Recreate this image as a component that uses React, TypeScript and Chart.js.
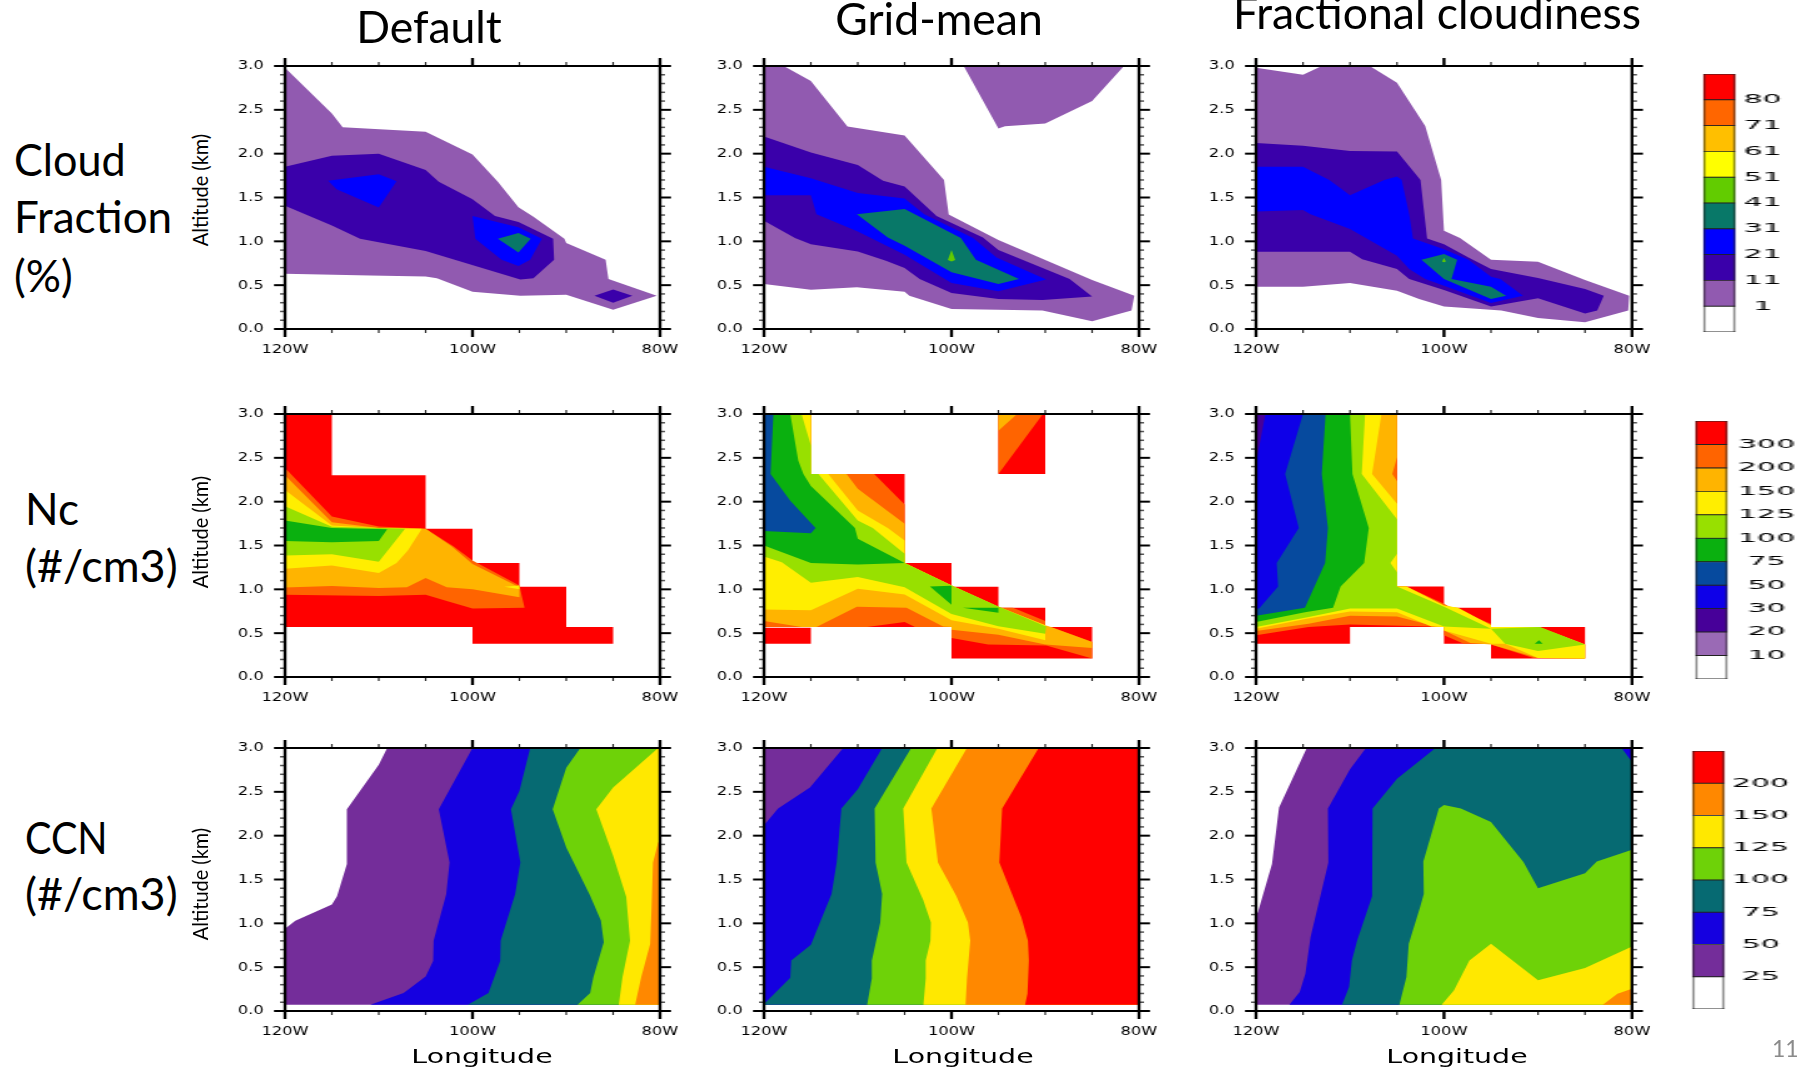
import React, { useEffect, useRef } from "react";
import { Chart, registerables } from "chart.js";

Chart.register(...registerables);

type Pair = [number, number];
type Layer = [number, Pair[]];

// ---------- axis content ----------
const xTicks: Record<string, string> = { "-120": "120W", "-100": "100W", "-80": "80W" };
const columnTitles = ["Default", "Grid-mean", "Fractional cloudiness"];

// ---------- colour levels ----------
const cloudLabels = ["1", "11", "21", "31", "41", "51", "61", "71", "80"];
const cloudColors = ["#FFFFFF", "#915AB0", "#3A00AA", "#0000FF", "#087868", "#62CC00", "#FFFF00", "#FFBF00", "#FF6600", "#FF0000"];
const ncLabels = ["10", "20", "30", "50", "75", "100", "125", "150", "200", "300"];
const ncColors = ["#FFFFFF", "#9A6AB5", "#470099", "#0E00E8", "#064A9E", "#0AB00F", "#98E000", "#FFEE00", "#FFB400", "#FF6400", "#FF0000"];
const ccnLabels = ["25", "50", "75", "100", "125", "150", "200"];
const ccnColors = ["#FFFFFF", "#742D9A", "#1500E0", "#066A72", "#6ED208", "#FFE800", "#FF8800", "#FF0000"];

// ---------- Cloud fraction, Default ----------
const cfA1: Pair[] = [[-120,2.98],[-115,2.457],[-113.85,2.3],[-105,2.25],[-100,1.99],[-97.3,1.68],[-95.1,1.39],[-93.5,1.28],[-90.2,1.03],[-90,0.98],[-85.8,0.79],[-85.5,0.57],[-80.35,0.38],[-85,0.22],[-90,0.39],[-94.9,0.38],[-100,0.425],[-103.8,0.58],[-105,0.6],[-110.9,0.61],[-120,0.63]];
const cfA2a: Pair[] = [[-120,1.85],[-115,1.975],[-110,2],[-105,1.815],[-103.6,1.68],[-100,1.48],[-97.6,1.29],[-95.1,1.22],[-91.4,1.03],[-91.3,0.79],[-93.5,0.58],[-94.9,0.565],[-105,0.89],[-112,1.03],[-115,1.18],[-120,1.405]];
const cfA2b: Pair[] = [[-87,0.38],[-85,0.45],[-82.95,0.38],[-85,0.3]];
const cfA3a: Pair[] = [[-115.4,1.69],[-110,1.765],[-108.1,1.686],[-110,1.386],[-114.5,1.595]];
const cfA3b: Pair[] = [[-100,1.29],[-95.1,1.16],[-92.6,1.03],[-93.85,0.79],[-95.1,0.72],[-96.9,0.79],[-99.7,1.03]];
const cfA4: Pair[] = [[-97.3,1.03],[-95.1,1.094],[-93.8,1.03],[-95.1,0.873]];
const panelCfDefault: Layer[] = [[1,cfA1],[2,cfA2a],[2,cfA2b],[3,cfA3a],[3,cfA3b],[4,cfA4]];

// ---------- Cloud fraction, Grid-mean ----------
const cfB1a: Pair[] = [[-120,3],[-117.9,3],[-115,2.83],[-111.1,2.31],[-105,2.207],[-100.8,1.7],[-100.3,1.306],[-95,1.014],[-85,0.558],[-80.5,0.38],[-80.8,0.21],[-85,0.087],[-90.3,0.21],[-95,0.22],[-100,0.228],[-104.5,0.38],[-105,0.425],[-110.1,0.475],[-115,0.448],[-120,0.513]];
const cfB1b: Pair[] = [[-98.7,3],[-81.6,3],[-85,2.6],[-90,2.343],[-94.3,2.313],[-95,2.286]];
const cfB2: Pair[] = [[-120,2.195],[-115,2.013],[-110,1.872],[-107.3,1.69],[-105,1.625],[-101.6,1.29],[-96.65,1.044],[-95,0.9],[-87.4,0.57],[-85,0.372],[-90.3,0.33],[-95,0.342],[-100,0.41],[-103.4,0.57],[-105,0.695],[-107,0.778],[-110,0.885],[-115,0.968],[-116.7,1.037],[-120,1.234]];
const cfB3: Pair[] = [[-120,1.85],[-115,1.72],[-110,1.55],[-105,1.49],[-102.9,1.31],[-97.7,1.037],[-95.2,0.816],[-89.9,0.566],[-95,0.43],[-100,0.524],[-105,0.847],[-110,1.113],[-114.4,1.31],[-115,1.527],[-120,1.527]];
const cfB4: Pair[] = [[-110.1,1.31],[-105,1.37],[-99,1.037],[-97.4,0.79],[-92.8,0.57],[-95,0.513],[-100,0.646],[-105,0.95],[-106.8,1.044]];
const cfB5: Pair[] = [[-100,0.9],[-99.6,0.786],[-100,0.77],[-100.4,0.786]];
const panelCfGrid: Layer[] = [[1,cfB1a],[1,cfB1b],[2,cfB2],[3,cfB3],[4,cfB4],[5,cfB5]];

// ---------- Cloud fraction, Fractional cloudiness ----------
const cfC1: Pair[] = [[-120,2.98],[-115,2.9],[-113,3],[-107.9,3],[-105,2.81],[-102,2.317],[-100.3,1.7],[-100,1.12],[-98.3,1.037],[-95,0.79],[-90,0.767],[-85,0.558],[-80.3,0.38],[-80.4,0.21],[-85,0.076],[-90,0.125],[-93.9,0.21],[-100,0.258],[-102.65,0.342],[-105,0.437],[-110,0.524],[-115,0.482],[-120,0.482]];
const cfC2: Pair[] = [[-120,2.123],[-115,2.09],[-110,2.03],[-105,2.024],[-102.5,1.7],[-101.8,1.033],[-100,0.968],[-97.4,0.817],[-95,0.684],[-90,0.581],[-85,0.456],[-83,0.38],[-83.7,0.21],[-85,0.178],[-90,0.35],[-95,0.258],[-100,0.444],[-103.7,0.57],[-105,0.684],[-108.7,0.797],[-110,0.88],[-120,0.88]];
const cfC3: Pair[] = [[-120,1.85],[-115,1.85],[-112.2,1.7],[-110,1.527],[-106.35,1.7],[-105,1.74],[-104.5,1.7],[-103.7,1.31],[-103.3,1.033],[-100,0.91],[-97.4,0.79],[-95,0.596],[-94,0.57],[-91.6,0.38],[-95,0.296],[-100,0.494],[-102,0.57],[-103.7,0.684],[-105,0.836],[-110,1.14],[-114.2,1.31],[-115,1.356],[-120,1.34]];
const cfC4: Pair[] = [[-102.4,0.79],[-100,0.855],[-98.6,0.79],[-99.2,0.57],[-95,0.482],[-93.4,0.38],[-95,0.342],[-100,0.57]];
const cfC5: Pair[] = [[-100.2,0.77],[-100,0.81],[-99.8,0.77],[-100,0.76]];
const panelCfFrac: Layer[] = [[1,cfC1],[2,cfC2],[3,cfC3],[4,cfC4],[5,cfC5]];

// ---------- Nc, Default ----------
const ncA300: Pair[] = [[-120,3],[-115,3],[-115,2.3],[-105,2.3],[-105,1.69],[-100,1.69],[-100,1.3],[-95,1.3],[-95,1.03],[-90,1.03],[-90,0.57],[-85,0.57],[-85,0.38],[-100,0.38],[-100,0.57],[-120,0.57]];
const ncA200: Pair[] = [[-120,2.385],[-115,1.83],[-110,1.717],[-105,1.69],[-102,1.49],[-100,1.33],[-95,1.044],[-94.45,0.79],[-100,0.78],[-102.75,0.866],[-105,0.938],[-110,0.923],[-120,0.938]];
const ncA150: Pair[] = [[-120,2.3],[-115,1.766],[-110,1.7],[-105,1.69],[-102.2,1.49],[-100,1.29],[-95,1.025],[-95,0.91],[-100,1],[-102.75,1.025],[-105,1.13],[-107,1.025],[-110,1.014],[-115,1.037],[-120,1.02]];
const ncA125a: Pair[] = [[-120,2.134],[-115,1.728],[-110,1.7],[-105.4,1.69],[-106.9,1.443],[-108.1,1.3],[-110,1.185],[-115,1.272],[-120,1.234]];
const ncA125b: Pair[] = [[-96.6,1.03],[-95,1.044],[-95,1]];
const ncA100: Pair[] = [[-120,1.948],[-115,1.713],[-110,1.7],[-107.2,1.69],[-110,1.314],[-115,1.4],[-120,1.386]];
const ncA75: Pair[] = [[-120,1.785],[-115,1.7],[-109.1,1.686],[-110,1.55],[-115,1.538],[-120,1.55]];
const panelNcDefault: Layer[] = [[10,ncA300],[9,ncA200],[8,ncA150],[7,ncA125a],[7,ncA125b],[6,ncA100],[5,ncA75]];

// ---------- Nc, Grid-mean ----------
const ncB300a: Pair[] = [[-120,0.562],[-115,0.562],[-115,0.38],[-120,0.38]];
const ncB300b: Pair[] = [[-120,3],[-115,3],[-115,2.315],[-105,2.315],[-105,1.3],[-100,1.3],[-100,1.03],[-95,1.03],[-95,0.79],[-90,0.79],[-90,0.57],[-85,0.57],[-85,0.21],[-100,0.21],[-100,0.57],[-120,0.57]];
const ncB300c: Pair[] = [[-95,3],[-90,3],[-90,2.315],[-95,2.315]];
const ncB200a: Pair[] = [[-95,3],[-90.25,3],[-95,2.315]];
const ncB200b: Pair[] = [[-120,3],[-115,3],[-115,2.315],[-108.25,2.315],[-105,1.967],[-105,1.3],[-100,1.044],[-95,0.79],[-93.45,0.79],[-90,0.638],[-90,0.57],[-89.4,0.57],[-85,0.4],[-85,0.21],[-89.9,0.36],[-96.1,0.372],[-100,0.444],[-100,0.57],[-103.9,0.57],[-105,0.627],[-109,0.57],[-120,0.57]];
const ncB150a: Pair[] = [[-95,3],[-93,3],[-95,2.81]];
const ncB150b: Pair[] = [[-120,3],[-115,3],[-115,2.315],[-111.2,2.315],[-110,2.146],[-105,1.747],[-105,1.3],[-100,1.044],[-95,0.8],[-90,0.59],[-89.4,0.57],[-85,0.4],[-85,0.33],[-90,0.372],[-95,0.482],[-100,0.54],[-100,0.57],[-100.9,0.577],[-104.8,0.79],[-110.1,0.8],[-114.4,0.57],[-116,0.57],[-120,0.638]];
const ncB125: Pair[] = [[-120,3],[-115,3],[-115,2.315],[-113.15,2.315],[-110,1.9],[-106.8,1.7],[-105,1.557],[-105,1.3],[-100,1.044],[-95,0.8],[-90,0.59],[-90,0.418],[-95,0.55],[-100,0.646],[-105,0.942],[-110,1.006],[-115,0.76],[-120,0.77]];
const ncB100: Pair[] = [[-120,3],[-116,3],[-115,2.64],[-115,2.315],[-114.2,2.315],[-110,1.785],[-108.4,1.7],[-105,1.405],[-105,1.3],[-100,1.044],[-95,0.805],[-89.9,0.577],[-90,0.494],[-95,0.58],[-100,0.72],[-105,1.025],[-110,1.14],[-115,1.075],[-118.1,1.31],[-120,1.375]];
const ncB75a: Pair[] = [[-120,3],[-117.2,3],[-116.35,2.47],[-115.8,2.315],[-115,2.18],[-110.3,1.7],[-110,1.576],[-105,1.3],[-110,1.284],[-115,1.3],[-120,1.5]];
const ncB75b: Pair[] = [[-102.3,1.033],[-100,1.04],[-100,0.824]];
const ncB75c: Pair[] = [[-98.8,0.79],[-95,0.79],[-95,0.733]];
const ncB50: Pair[] = [[-120,3],[-119,3],[-119.3,2.315],[-117.2,2.01],[-114.5,1.7],[-115,1.64],[-120,1.664]];
const panelNcGrid: Layer[] = [[10,ncB300a],[10,ncB300b],[10,ncB300c],[9,ncB200a],[9,ncB200b],[8,ncB150a],[8,ncB150b],[7,ncB125],[6,ncB100],[5,ncB75a],[5,ncB75b],[5,ncB75c],[4,ncB50]];

// ---------- Nc, Fractional cloudiness ----------
const ncC300: Pair[] = [[-120,3],[-105,3],[-105,1.033],[-100,1.033],[-100,0.79],[-95,0.79],[-95,0.57],[-85,0.57],[-85,0.21],[-95,0.21],[-95,0.38],[-100,0.38],[-100,0.57],[-110,0.57],[-110,0.38],[-120,0.38]];
const ncC200: Pair[] = [[-120,3],[-105,3],[-105,1.033],[-104,1.033],[-100,0.835],[-99.2,0.79],[-95,0.608],[-95,0.57],[-89.8,0.57],[-85,0.372],[-85,0.21],[-90.5,0.217],[-95,0.372],[-95,0.38],[-97.9,0.38],[-100,0.475],[-100,0.57],[-101.35,0.577],[-110,0.6],[-114.4,0.57],[-120,0.475]];
const ncC150: Pair[] = [[-120,3],[-105,3],[-105,2.507],[-105.5,2.317],[-105,2.233],[-105,1.033],[-104,1.033],[-100,0.817],[-98.7,0.79],[-95,0.59],[-95,0.57],[-90,0.57],[-85,0.372],[-85,0.21],[-90,0.217],[-95,0.372],[-97.2,0.387],[-100,0.53],[-100,0.57],[-100.9,0.577],[-105,0.69],[-110,0.7],[-114.4,0.607],[-120,0.524]];
const ncC125: Pair[] = [[-120,3],[-106.65,3],[-107.65,2.317],[-105,1.975],[-105,1.033],[-104,1.033],[-100,0.817],[-98.5,0.79],[-95,0.59],[-95,0.57],[-90,0.57],[-85,0.372],[-85,0.21],[-90,0.217],[-93.5,0.38],[-95,0.38],[-100,0.53],[-100,0.56],[-100,0.57],[-101.35,0.577],[-105,0.74],[-110,0.748],[-114.6,0.665],[-120,0.55]];
const ncC100: Pair[] = [[-120,3],[-108.4,3],[-108.75,2.317],[-105,1.8],[-105,1.405],[-105.7,1.3],[-105,1.196],[-105,1.033],[-100,0.8],[-95,0.55],[-89.8,0.57],[-85,0.372],[-90,0.296],[-93.5,0.38],[-95,0.55],[-100,0.577],[-105,0.78],[-110,0.78],[-114.4,0.684],[-120,0.57]];
const ncC75a: Pair[] = [[-120,3],[-110,3],[-109.74,2.317],[-108,1.7],[-108.5,1.3],[-111,1.033],[-111.8,0.79],[-114.8,0.74],[-120,0.627]];
const ncC75b: Pair[] = [[-90.35,0.38],[-89.9,0.42],[-89.5,0.38]];
const ncC50: Pair[] = [[-120,3],[-112.6,3],[-113,2.317],[-112.35,1.7],[-112.65,1.3],[-114.8,0.79],[-120,0.7]];
const ncC30: Pair[] = [[-120,3],[-115,3],[-116.9,2.317],[-115.45,1.7],[-117.8,1.3],[-117.65,1.033],[-119.6,0.79],[-120,0.767]];
const ncC20: Pair[] = [[-120,3],[-119,3],[-119.9,2.49],[-120,2.48]];
const panelNcFrac: Layer[] = [[10,ncC300],[9,ncC200],[8,ncC150],[7,ncC125],[6,ncC100],[5,ncC75a],[5,ncC75b],[4,ncC50],[3,ncC30],[2,ncC20]];

// ---------- CCN, Default ----------
const ccA25: Pair[] = [[-120,0.07],[-120,0.937],[-118.9,1.03],[-115,1.214],[-114.45,1.31],[-113.4,1.676],[-113.4,2.3],[-110,2.81],[-109.1,3],[-80,3],[-80,0.07]];
const ccA50: Pair[] = [[-100,3],[-103.6,2.3],[-102.45,1.695],[-102.8,1.335],[-104.15,0.8],[-104.2,0.57],[-105,0.394],[-107.35,0.205],[-110.9,0.07],[-80,0.07],[-80,3]];
const ccA75: Pair[] = [[-93.85,3],[-95,2.51],[-95.9,2.3],[-94.9,1.695],[-95.45,1.335],[-97,0.8],[-97.05,0.57],[-98.3,0.205],[-100.5,0.07],[-80,0.07],[-80,3]];
const ccA100: Pair[] = [[-88.5,3],[-90,2.776],[-91.45,2.3],[-90,1.866],[-87.45,1.316],[-86.3,1.03],[-86,0.785],[-87.1,0.387],[-87.45,0.205],[-88.8,0.07],[-80,0.07],[-80,3]];
const ccA125: Pair[] = [[-80.2,3],[-85,2.55],[-86.8,2.3],[-85,1.77],[-83.6,1.3],[-83.2,0.8],[-84,0.387],[-84.4,0.07],[-80,0.07],[-80,3]];
const ccA150: Pair[] = [[-80,1.95],[-80.2,1.92],[-80.75,1.695],[-80.9,1.18],[-81.05,0.765],[-82,0.387],[-82.65,0.07],[-80,0.07]];
const panelCcnDefault: Layer[] = [[1,ccA25],[2,ccA50],[3,ccA75],[4,ccA100],[5,ccA125],[6,ccA150]];

// ---------- CCN, Grid-mean ----------
const ccB25: Pair[] = [[-120,0.07],[-120,3],[-80,3],[-80,0.07]];
const ccB50: Pair[] = [[-111.55,3],[-115.1,2.55],[-118.5,2.31],[-120,2.12],[-120,0.07],[-80,0.07],[-80,3]];
const ccB75: Pair[] = [[-107.4,3],[-110,2.53],[-111.75,2.31],[-112.25,1.695],[-112.8,1.335],[-115,0.755],[-117.1,0.576],[-117.2,0.38],[-120,0.08],[-120,0.07],[-80,0.07],[-80,3]];
const ccB100: Pair[] = [[-104.3,3],[-108.2,2.31],[-108.1,1.695],[-107.4,1.335],[-107.6,1.01],[-108.5,0.576],[-108.5,0.37],[-109,0.07],[-80,0.07],[-80,3]];
const ccB125: Pair[] = [[-101.5,3],[-105.15,2.31],[-104.8,1.695],[-103,1.26],[-102.2,1.01],[-102.25,0.8],[-102.75,0.576],[-102.75,0.37],[-103,0.07],[-80,0.07],[-80,3]];
const ccB150: Pair[] = [[-98.35,3],[-102.15,2.31],[-101.45,1.695],[-99.5,1.316],[-98.25,1.01],[-98,0.8],[-98.35,0.37],[-98.5,0.07],[-80,0.07],[-80,3]];
const ccB200: Pair[] = [[-90.7,3],[-94.6,2.31],[-94.9,1.695],[-92.55,1.07],[-91.85,0.8],[-91.75,0.576],[-91.9,0.197],[-92.15,0.07],[-80,0.07],[-80,3]];
const panelCcnGrid: Layer[] = [[1,ccB25],[2,ccB50],[3,ccB75],[4,ccB100],[5,ccB125],[6,ccB150],[7,ccB200]];

// ---------- CCN, Fractional cloudiness ----------
const ccC25: Pair[] = [[-114.6,3],[-117.55,2.32],[-118.3,1.676],[-119.8,1.126],[-120,1.1],[-120,0.07],[-80,0.07],[-80,3]];
const ccC50: Pair[] = [[-108.3,3],[-110,2.757],[-112.35,2.31],[-112.3,1.695],[-114.2,0.842],[-114.75,0.425],[-115.35,0.216],[-116.45,0.07],[-80,0.07],[-80,3]];
const ccC75: Pair[] = [[-100.9,3],[-105,2.65],[-107.6,2.31],[-107.65,1.31],[-109.25,0.8],[-109.8,0.576],[-110.1,0.273],[-110.85,0.07],[-80,0.07],[-80,2.84],[-81.1,3]];
const ccC100: Pair[] = [[-100.55,2.31],[-100,2.35],[-98.2,2.31],[-95,2.157],[-91.55,1.7],[-90,1.4],[-85,1.57],[-83.75,1.706],[-80,1.84],[-80,0.07],[-104.75,0.07],[-104,0.387],[-103.75,0.767],[-102.55,1.184],[-102.15,1.335],[-102.2,1.706]];
const ccC125: Pair[] = [[-100.25,0.07],[-98.95,0.235],[-97.3,0.576],[-95,0.767],[-90,0.35],[-85,0.49],[-80,0.735],[-80,0.07]];
const ccC150: Pair[] = [[-83.1,0.07],[-81.55,0.197],[-80,0.254],[-80,0.07]];
const panelCcnFrac: Layer[] = [[1,ccC25],[2,ccC50],[3,ccC75],[4,ccC100],[5,ccC125],[6,ccC150]];

const panels: { layers: Layer[]; colors: string[]; col: number; row: number }[] = [
  { layers: panelCfDefault, colors: cloudColors, col: 0, row: 0 },
  { layers: panelCfGrid, colors: cloudColors, col: 1, row: 0 },
  { layers: panelCfFrac, colors: cloudColors, col: 2, row: 0 },
  { layers: panelNcDefault, colors: ncColors, col: 0, row: 1 },
  { layers: panelNcGrid, colors: ncColors, col: 1, row: 1 },
  { layers: panelNcFrac, colors: ncColors, col: 2, row: 1 },
  { layers: panelCcnDefault, colors: ccnColors, col: 0, row: 2 },
  { layers: panelCcnGrid, colors: ccnColors, col: 1, row: 2 },
  { layers: panelCcnFrac, colors: ccnColors, col: 2, row: 2 },
];

// ---------- layout (canvases are stretched sideways to get the wide NCL lettering) ----------
const colLeft = [285, 764, 1256];
const colWidth = [375, 375, 376];
const rowTop = [66, 414, 748];
const plotH = 263;
const S = 1.25;
const padLeft = 70, padTop = 40, padRight = 40, padBottom = 50;
const TICK_FONT = { family: "'DejaVu Sans'", size: 13 };
const BAR_S = 2.3;
const BAR_MARGIN = 30;

const bars = [
  { labels: cloudLabels, colors: cloudColors, left: 1703, top: 74, h: 258, w: 31, pad: 3.5 },
  { labels: ncLabels, colors: ncColors, left: 1695, top: 421, h: 258, w: 31, pad: 4.6 },
  { labels: ccnLabels, colors: ccnColors, left: 1692, top: 751, h: 258, w: 31, pad: 3.3 },
];

const framePlugin = {
  id: "ncarFrame",
  afterDraw(chart: any) {
    const { ctx, chartArea: a, scales } = chart;
    const xs = scales.x, ys = scales.y;
    ctx.save();
    ctx.lineCap = "butt";
    const seg = (x1: number, y1: number, x2: number, y2: number, w: number, c = "#000") => {
      ctx.beginPath(); ctx.lineWidth = w; ctx.strokeStyle = c;
      ctx.moveTo(x1, y1); ctx.lineTo(x2, y2); ctx.stroke();
    };
    for (let v = -120; v <= -80; v += 5) {
      const px = xs.getPixelForValue(v);
      const major = v % 20 === 0;
      const len = major ? 8 : 4;
      const w = (major ? 3 : 1.5) / S;
      seg(px, a.top, px, a.top - len, w, major ? "#000" : "#222");
      seg(px, a.bottom, px, a.bottom + len, w, major ? "#000" : "#222");
    }
    for (let i = 0; i <= 30; i++) {
      const py = ys.getPixelForValue(i / 10);
      const major = i % 5 === 0;
      const len = (major ? 11 : 5) / S;
      const w = major ? 2 : 1.5;
      seg(a.left, py, a.left - len, py, w, major ? "#000" : "#555");
      seg(a.right, py, a.right + len, py, w, major ? "#000" : "#555");
    }
    seg(a.left, a.top, a.right, a.top, 2.2);
    seg(a.left, a.bottom, a.right, a.bottom, 2.2);
    seg(a.left, a.top, a.left, a.bottom, 3 / S);
    seg(a.right, a.top, a.right, a.bottom, 3 / S);
    ctx.restore();
  },
};

const toPoints = (p: Pair[]) => p.map(([x, y]) => ({ x, y }));

function Panel({ layers, colors, col, row }: (typeof panels)[number]) {
  const ref = useRef<HTMLCanvasElement>(null);
  const totalW = colWidth[col] + padLeft + padRight;
  useEffect(() => {
    const datasets = [...layers].reverse().map(([lvl, poly]) => ({
      data: toPoints(poly),
      showLine: true,
      fill: "shape",
      backgroundColor: colors[lvl],
      borderColor: "rgba(0,0,0,0)",
      borderWidth: 0,
      borderDash: [100000],
      pointRadius: 0,
      tension: 0,
    }));
    const fit = { h: padBottom };
    const pad = { top: padTop, right: padRight / S, left: 0, bottom: 0 };
    const chart = new Chart(ref.current!, {
      type: "scatter",
      data: { datasets } as any,
      plugins: [framePlugin],
      options: {
        animation: false,
        responsive: false,
        events: [],
        layout: { padding: { ...pad } },
        plugins: { legend: { display: false }, tooltip: { enabled: false } },
        scales: {
          x: {
            type: "linear", min: -120, max: -80,
            grid: { display: false, drawTicks: false }, border: { display: false },
            afterFit: (s: any) => { s.height = fit.h; },
            ticks: {
              stepSize: 20, autoSkip: false, maxRotation: 0, padding: 13,
              color: "#000", font: TICK_FONT,
              callback: (v: any) => xTicks[String(v)] ?? "",
            },
          },
          y: {
            type: "linear", min: 0, max: 3,
            grid: { display: false, drawTicks: false }, border: { display: false },
            afterFit: (s: any) => { s.width = padLeft / S; },
            ticks: {
              stepSize: 0.5, padding: 17, color: "#000", font: TICK_FONT,
              callback: (v: any) => Number(v).toFixed(1),
            },
          },
        },
      } as any,
    });
    // pin the plot area to the exact place of the reference
    for (let i = 0; i < 3; i++) {
      const a = chart.chartArea;
      pad.top += padTop - a.top;
      pad.right += a.right - (padLeft + colWidth[col]) / S;
      fit.h -= padTop + plotH - a.bottom;
      (chart.options as any).layout.padding = { ...pad };
      chart.update();
    }
    return () => chart.destroy();
  }, []);
  return (
    <canvas
      ref={ref}
      width={Math.ceil(totalW / S)}
      height={plotH + padTop + padBottom}
      style={{
        position: "absolute", left: colLeft[col] - padLeft, top: rowTop[row] - padTop,
        transform: `scaleX(${S})`, transformOrigin: "0 0",
      }}
    />
  );
}

function ColorBar({ labels, colors, left, top, h, w, pad: labelPad }: (typeof bars)[number]) {
  const ref = useRef<HTMLCanvasElement>(null);
  const axisW = 40;
  const barW = w / BAR_S;
  useEffect(() => {
    const datasets = colors.map((c, i) => ({
      data: [[i, i + 1]],
      backgroundColor: c,
      borderColor: "#222",
      borderWidth: 0.8,
      borderSkipped: false,
      grouped: false,
      barPercentage: 1,
      categoryPercentage: 1,
    }));
    const pad = { top: BAR_MARGIN, bottom: BAR_MARGIN, left: 1, right: 0 };
    const chart = new Chart(ref.current!, {
      type: "bar",
      data: { labels: [""], datasets } as any,
      options: {
        animation: false,
        responsive: false,
        events: [],
        layout: { padding: { ...pad } },
        plugins: { legend: { display: false }, tooltip: { enabled: false } },
        scales: {
          x: { display: false },
          y: {
            position: "right", min: 0, max: colors.length,
            grid: { display: false, drawTicks: false }, border: { display: false },
            afterFit: (s: any) => { s.width = axisW; },
            ticks: {
              stepSize: 1, padding: labelPad, color: "#000", font: TICK_FONT, crossAlign: "center",
              callback: (v: any) => labels[Number(v) - 1] ?? "",
            },
          },
        },
      } as any,
    });
    for (let i = 0; i < 3; i++) {
      const a = chart.chartArea;
      pad.top += BAR_MARGIN - a.top;
      pad.bottom += a.bottom - (BAR_MARGIN + h);
      (chart.options as any).layout.padding = { ...pad };
      chart.update();
    }
    return () => chart.destroy();
  }, []);
  return (
    <canvas
      ref={ref}
      width={Math.ceil(barW + axisW + 1)}
      height={h + 2 * BAR_MARGIN}
      style={{
        position: "absolute", left: left - BAR_S, top: top - BAR_MARGIN,
        transform: `scaleX(${BAR_S})`, transformOrigin: "0 0",
      }}
    />
  );
}

const BIG = "Lato, 'Open Sans', sans-serif";
const bigLabels: [string, number, number, number][] = [
  ["Cloud", 14, 136, 0.98], ["Fraction", 14, 193, 1], ["(%)", 14, 252, 1],
  ["Nc", 25, 485, 1], ["(#/cm3)", 25, 542, 1.02],
  ["CCN", 25, 814, 0.9], ["(#/cm3)", 25, 870, 1.02],
];
const titleSpots: [number, number][] = [[429, 3], [939, -5], [1437, -11]];
const altCenters = [190, 532, 884];
const lonCenters = [482, 963, 1457];

export default function App() {
  useEffect(() => { document.body.style.margin = "0"; }, []);
  return (
    <div style={{ position: "absolute", left: 0, top: 0, width: 1810, height: 1068, overflow: "hidden", background: "#fff" }}>
      {panels.map((p) => <Panel key={`${p.col}-${p.row}`} {...p} />)}
      {bars.map((b) => <ColorBar key={b.left} {...b} />)}
      {columnTitles.map((t, i) => (
        <div key={t} style={{ position: "absolute", left: titleSpots[i][0], top: titleSpots[i][1], transform: "translateX(-50%)", fontFamily: BIG, fontSize: 44.5, lineHeight: "46px", whiteSpace: "nowrap", color: "#000" }}>{t}</div>
      ))}
      {bigLabels.map(([t, x, y, sx], i) => (
        <div key={i} style={{ position: "absolute", left: x, top: y, transform: `scaleX(${sx})`, transformOrigin: "0 0", fontFamily: BIG, fontSize: 44, lineHeight: "46px", whiteSpace: "nowrap", color: "#000" }}>{t}</div>
      ))}
      {altCenters.map((y) => (
        <div key={y} style={{ position: "absolute", left: 199, top: y, transform: "translate(-50%,-50%) rotate(-90deg) scaleX(0.95)", fontFamily: BIG, fontSize: 21, whiteSpace: "nowrap", color: "#000" }}>Altitude (km)</div>
      ))}
      {lonCenters.map((x) => (
        <div key={x} style={{ position: "absolute", left: x, top: 1056, transform: "translate(-50%,-50%) scaleX(1.42)", fontFamily: "'DejaVu Sans'", fontSize: 20, whiteSpace: "nowrap", color: "#000" }}>Longitude</div>
      ))}
      <div style={{ position: "absolute", left: 1772, top: 1034, fontFamily: BIG, fontSize: 23, color: "#8a8a8a" }}>11</div>
    </div>
  );
}
